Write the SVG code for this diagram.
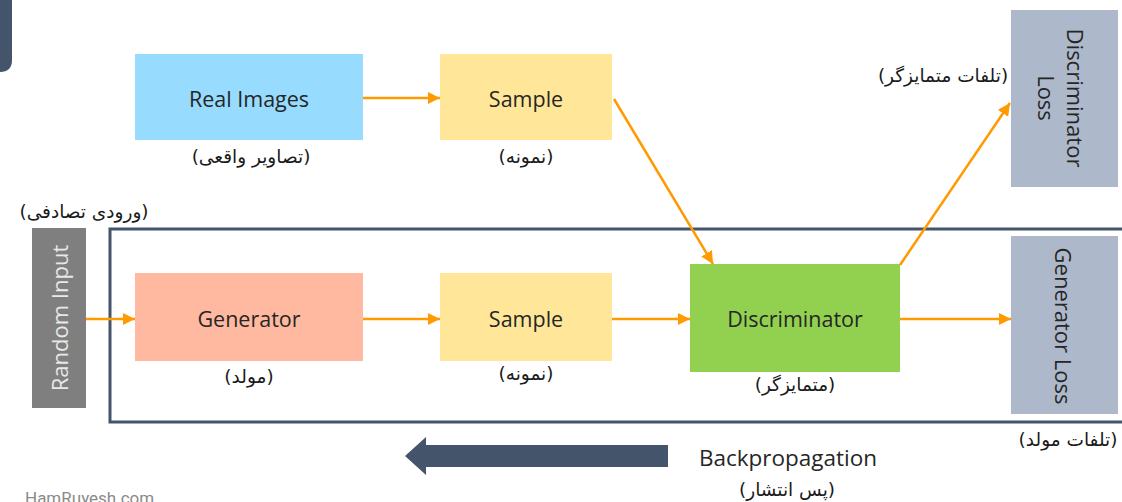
<svg xmlns="http://www.w3.org/2000/svg" width="1122" height="502" viewBox="0 0 1122 502">
<style>
.lbl{font-family:"Open Sans","Noto Sans",sans-serif;font-size:21.5px;fill:#262626;text-anchor:middle;dominant-baseline:central}
.rot{font-size:22px}
.fa{font-family:"DejaVu Sans","Noto Sans",sans-serif;font-size:18.5px;fill:#1a1a1a;text-anchor:middle;dominant-baseline:central}
.con{stroke:#FF9A00;stroke-width:2.5;fill:none;marker-end:url(#ah)}
</style>
<defs>
<marker id="ah" viewBox="0 0 10 10" refX="10" refY="5" markerWidth="5" markerHeight="5" orient="auto" markerUnits="strokeWidth">
<path d="M0,0 L10,5 L0,10 z" fill="#FF9A00"/>
</marker>
</defs>
<rect width="1122" height="502" fill="#ffffff"/>
<path d="M0,0 H12 V60 Q12,72 0,72 Z" fill="#44546A"/>
<rect id="frame" x="110" y="229" width="1020" height="193" fill="none" stroke="#44546A" stroke-width="3"/>
<g id="real-images">
<rect x="135" y="54" width="228" height="86" fill="#97DCFE"/>
<text class="lbl" x="249" y="98">Real Images</text>
<text class="fa" x="251" y="156">(تصاویر واقعی)</text>
</g>
<g id="sample-top">
<rect x="440" y="54" width="172" height="86" fill="#FFE699"/>
<text class="lbl" x="526" y="98">Sample</text>
<text class="fa" x="526" y="156">(نمونه)</text>
</g>
<g id="random-input">
<rect x="32" y="228" width="54" height="180" fill="#7F7F7F"/>
<text class="lbl rot" x="0" y="0" transform="translate(59,318) rotate(-90)" style="fill:#e8e8e8">Random Input</text>
<text class="fa" x="84" y="211">(ورودی تصادفی)</text>
</g>
<g id="generator">
<rect x="135" y="273" width="228" height="88" fill="#FFB9A1"/>
<text class="lbl" x="249" y="318">Generator</text>
<text class="fa" x="249" y="376">(مولد)</text>
</g>
<g id="sample-bottom">
<rect x="440" y="273" width="172" height="88" fill="#FFE699"/>
<text class="lbl" x="526" y="318">Sample</text>
<text class="fa" x="526" y="373">(نمونه)</text>
</g>
<g id="discriminator">
<rect x="690" y="264" width="210" height="108" fill="#92D050"/>
<text class="lbl" x="795" y="318">Discriminator</text>
<text class="fa" x="795" y="384">(متمایزگر)</text>
</g>
<g id="discriminator-loss">
<rect x="1011" y="10" width="107" height="177" fill="#ADB9CA"/>
<text class="lbl rot" x="0" y="0" transform="translate(1076,98) rotate(90)">Discriminator</text>
<text class="lbl rot" x="0" y="0" transform="translate(1047,98) rotate(90)">Loss</text>
<text class="fa" x="943" y="75">(تلفات متمایزگر)</text>
</g>
<g id="generator-loss">
<rect x="1011" y="236" width="107" height="178" fill="#ADB9CA"/>
<text class="lbl rot" x="0" y="0" transform="translate(1064,326) rotate(90)">Generator Loss</text>
<text class="fa" x="1068" y="439">(تلفات مولد)</text>
</g>
<g id="connectors">
<line class="con" x1="363" y1="98" x2="440" y2="98"/>
<line class="con" x1="86" y1="319" x2="135" y2="319"/>
<line class="con" x1="363" y1="319" x2="440" y2="319"/>
<line class="con" x1="612" y1="319" x2="690" y2="319"/>
<line class="con" x1="900" y1="319" x2="1011" y2="319"/>
<line class="con" x1="614" y1="99" x2="713" y2="264"/>
<line class="con" x1="900" y1="265" x2="1010" y2="103"/>
</g>
<g id="backpropagation">
<path d="M668,445 H426 V437 L405,456 L426,475 V467 H668 Z" fill="#44546A"/>
<text class="lbl" x="788" y="457" style="font-size:22.5px">Backpropagation</text>
<text class="fa" x="787" y="489">(پس انتشار)</text>
</g>
<text x="25" y="504" style="font-family:Roboto,sans-serif;font-size:17px;fill:#8a8a8a">HamRuyesh.com</text>
</svg>
